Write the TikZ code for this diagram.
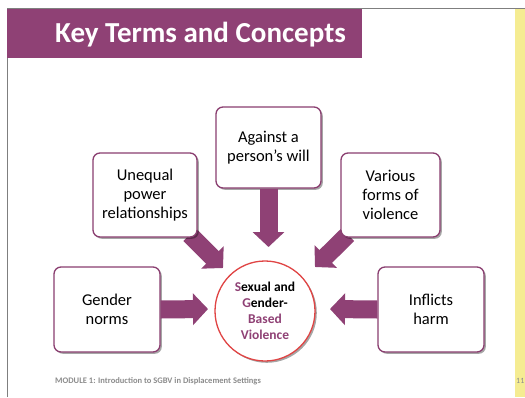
\documentclass[tikz,border=0pt]{standalone}
\usepackage{fontspec}
\setmainfont{Carlito}
\usetikzlibrary{arrows.meta,shadows,calc,backgrounds}
\definecolor{plum}{HTML}{8F4175}
\definecolor{boxline}{HTML}{8A3E70}
\definecolor{ringred}{HTML}{E04444}
\definecolor{sidebar}{HTML}{F5EC92}
\definecolor{framegray}{HTML}{7F7F7F}
\definecolor{footgray}{HTML}{8C8C8C}
\begin{document}
\begin{tikzpicture}[x=1pt,y=-1pt,
  termbox/.style={draw=boxline, line width=1.3pt, fill=white, rounded corners=7pt,
    align=center, inner sep=0pt, font=\fontsize{16.5}{19}\selectfont,
    drop shadow={shadow xshift=1.8pt, shadow yshift=-1.8pt, opacity=0.35, fill=black}},
  blockarrow/.style={draw=plum, line width=18pt, -{Triangle[width=31pt,length=15pt]}},
  hub/.style={circle, draw=ringred, line width=1.3pt, fill=white, minimum size=100pt,
    inner sep=0pt, align=center, font=\fontsize{13.5}{16}\selectfont\bfseries,
    drop shadow={shadow xshift=1.8pt, shadow yshift=-1.8pt, opacity=0.35, fill=black}},
  foot/.style={inner sep=0pt, text=footgray, font=\fontsize{8.5}{10}\selectfont\bfseries}
]
\useasboundingbox (0,0) rectangle (525,397);
\clip (0,0) rectangle (525,397);
% frame and sidebar
\fill[sidebar] (515,9) rectangle (525,397);
\draw[framegray, line width=1pt] (7,397) -- (7,8) -- (525,8);
% title bar
\fill[plum] (7,9) rectangle (362,58);
\node[anchor=base west, inner sep=0pt, text=white, font=\fontsize{29}{33}\selectfont\bfseries] (title) at (55,42) {Key Terms and Concepts};

% term boxes
\node[termbox, minimum width=105pt, minimum height=81pt] (will) at (268.5,147.5) {Against a\\person’s will};
\node[termbox, minimum width=104pt, minimum height=84pt] (power) at (145,195) {Unequal\\power\\relationships};
\node[termbox, minimum width=99pt, minimum height=84pt] (forms) at (390.5,195) {Various\\forms of\\violence};
\node[termbox, minimum width=106pt, minimum height=85pt] (norms) at (107,309.5) {Gender\\norms};
\node[termbox, minimum width=106pt, minimum height=85pt] (harm) at (431,309.5) {Inflicts\\harm};

% central circle
\node[hub] (sgbv) at (265,311) {{\color{plum}S}exual and\\{\color{plum}G}ender-\\{\color{plum}Based}\\{\color{plum}Violence}};

% arrow tips
\coordinate (tipWill) at (268.5,247);
\coordinate (tipPower) at (223,268);
\coordinate (tipForms) at (315,267);
\coordinate (tipNorms) at (208,309);
\coordinate (tipHarm) at (330,309);

\begin{scope}[on background layer]
\fill[white] (0,0) rectangle (515,397);
\draw[blockarrow] ($(power.south east)+(-8,-3)$) -- (tipPower);
\draw[blockarrow] ($(forms.south west)+(7.5,-3)$) -- (tipForms);
\end{scope}
\draw[blockarrow] (will.south) -- (tipWill);
\draw[blockarrow] (norms.east) -- (tipNorms);
\draw[blockarrow] (harm.west) -- (tipHarm);

% footer
\node[foot, anchor=west] (module) at (55,381) {MODULE 1: Introduction to SGBV in Displacement Settings};
\node[foot, anchor=east, font=\fontsize{8}{10}\selectfont] (page) at (524.5,381) {11};
\end{tikzpicture}
\end{document}
